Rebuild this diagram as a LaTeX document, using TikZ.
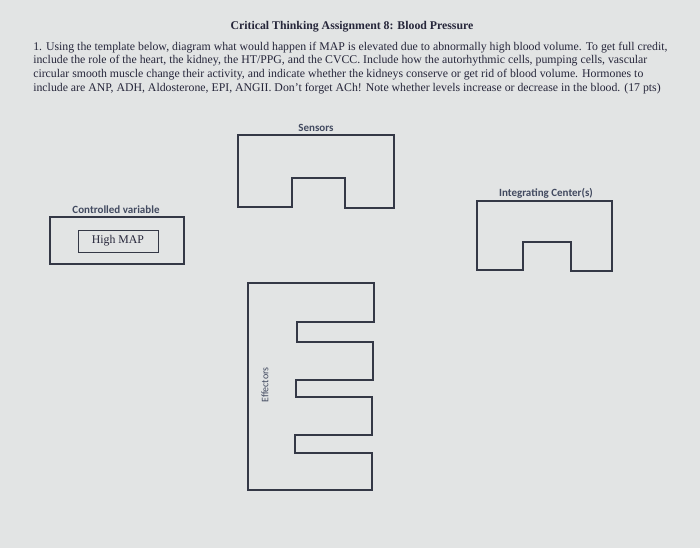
\documentclass[tikz,border=0pt]{standalone}
\usepackage{fontspec}
\setmainfont{Liberation Serif}
\newfontfamily\labelfont{Carlito}
\usepackage{tikz}
\usetikzlibrary{positioning}
\definecolor{paper}{RGB}{226,228,228}
\definecolor{ink}{RGB}{52,56,70}
\definecolor{lblink}{RGB}{66,74,96}
\definecolor{print}{RGB}{38,38,58}

\begin{document}
\begin{tikzpicture}[x=1pt,y=-1pt,semithick]
\tikzstyle{outline}=[draw=ink,line width=1.7pt,line join=miter]
\tikzstyle{thin outline}=[draw=ink,line width=1.1pt]
\tikzstyle{lbl}=[text=lblink,font=\labelfont\bfseries\fontsize{11}{13}\selectfont,inner sep=0pt]
\tikzstyle{body}=[anchor=west,inner sep=0pt,text=print,font=\fontsize{11.8}{14}\selectfont]
\fill[paper] (0,0) rectangle (700,548);
\useasboundingbox (0,0) rectangle (700,548);
% heading
\node[inner sep=0pt,text=print,font=\bfseries\fontsize{11.8}{14}\selectfont] (title) at (352,27) {Critical Thinking Assignment 8: Blood Pressure};
\node[body] (l1) at (33,48) {1. Using the template below, diagram what would happen if MAP is elevated due to abnormally high blood volume. To get full credit,};
\node[body] (l2) at (33,61) {include the role of the heart, the kidney, the HT/PPG, and the CVCC. Include how the autorhythmic cells, pumping cells, vascular};
\node[body] (l3) at (33,75) {circular smooth muscle change their activity, and indicate whether the kidneys conserve or get rid of blood volume. Hormones to};
\node[body] (l4) at (33,89) {include are ANP, ADH, Aldosterone, EPI, ANGII. Don't forget ACh! Note whether levels increase or decrease in the blood. (17 pts)};
% sensors
\node[lbl] (sens) at (316,128) {Sensors};
\draw[outline] (238,135) -- (394,135) -- (394,208) -- (345,208) -- (345,178)
  -- (292,178) -- (292,207) -- (238,207) -- cycle;
% controlled variable
\node[lbl] (ctrl) at (116,210) {Controlled variable};
\draw[thin outline] (50,217) rectangle (184,264);
\node[draw=ink,line width=1pt,minimum width=80pt,minimum height=22pt,inner sep=0pt,
  text=print,font=\fontsize{11.8}{14}\selectfont] (map) at (118,241) {High MAP};
% integrating center
\node[lbl] (intc) at (546,193) {Integrating Center(s)};
\draw[outline] (477,201) -- (612,201) -- (612,271) -- (571,271) -- (571,242)
  -- (523,242) -- (523,270) -- (477,270) -- cycle;
% effectors
\draw[thin outline] (248,283) -- (374,283) -- (374,322) -- (297,322) -- (297,342)
  -- (373,342) -- (373,380) -- (296,380) -- (296,397) -- (372,397) -- (372,435)
  -- (295,435) -- (295,453) -- (372,453) -- (372,490) -- (248,490) -- cycle;
\node[lbl,rotate=90,font=\labelfont\fontsize{10}{12}\selectfont] (eff) at (265,385) {Effectors};
\end{tikzpicture}
\end{document}
